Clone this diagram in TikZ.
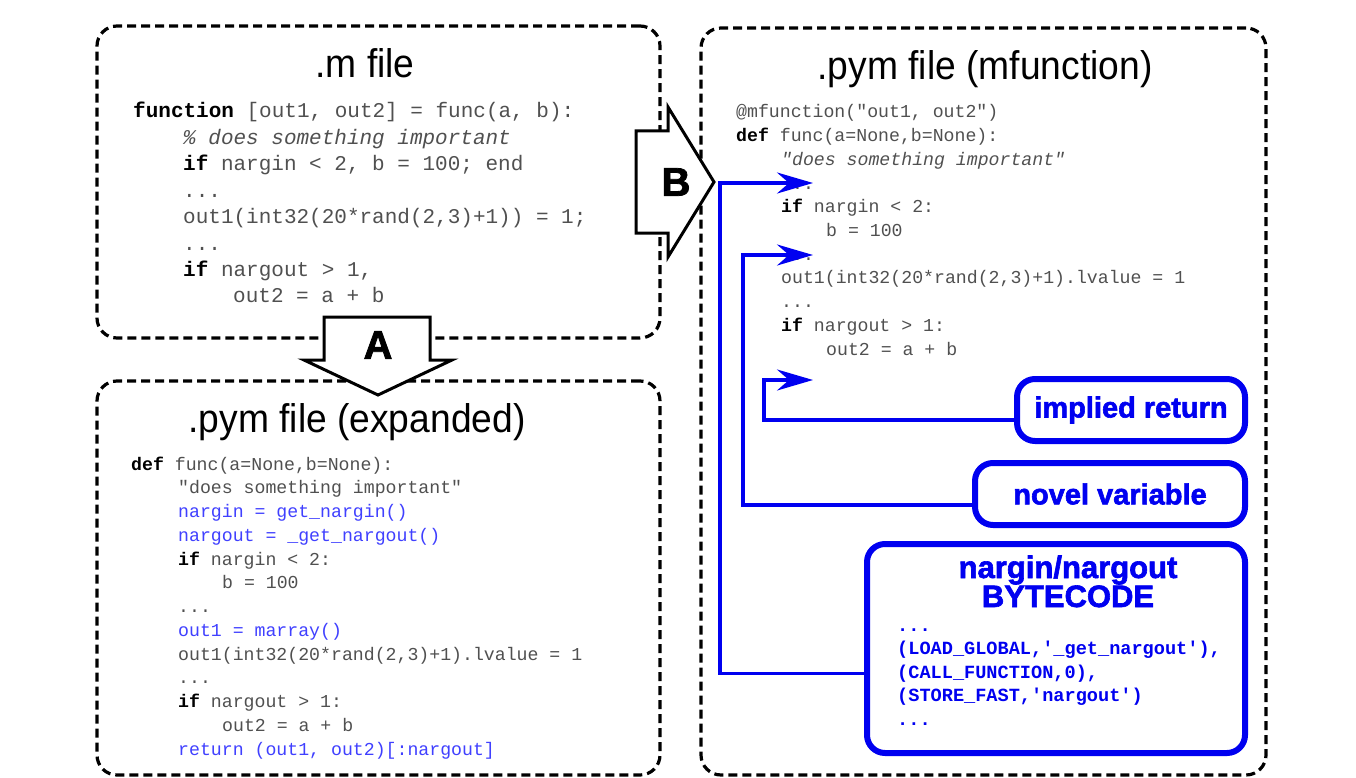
\documentclass[tikz,border=0pt]{standalone}
\usepackage{fontspec}
\setmainfont{Liberation Sans}
\setmonofont{Liberation Mono}
\newfontfamily\titlefont{Liberation Sans}[FakeStretch=0.93]
\newfontfamily\heavyfont{Liberation Sans}[BoldFeatures={FakeBold=2}]
\usetikzlibrary{arrows.meta,calc}
\definecolor{codeblue}{RGB}{64,64,255}
\definecolor{lineblue}{RGB}{0,0,240}
\definecolor{codegray}{RGB}{80,80,80}
\newcommand{\kwd}[1]{\textbf{\color{black}#1}}
\begin{document}
\begin{tikzpicture}[x=1pt,y=-1pt,
  filebox/.style={draw,line width=3.2pt,dash pattern=on 9pt off 5pt,rounded corners=20pt,inner sep=0pt,outer sep=0pt},
  filetitle/.style={anchor=base,inner sep=0pt,font=\titlefont\fontsize{40}{40}\selectfont},
  codeA/.style={anchor=base west,inner sep=0pt,text=codegray,font=\ttfamily\fontsize{21}{21}\selectfont},
  codeB/.style={anchor=base west,inner sep=0pt,text=codegray,font=\ttfamily\fontsize{18.2}{18.2}\selectfont},
  codeBlue/.style={codeB,text=codeblue},
  bytecode/.style={anchor=base west,inner sep=0pt,text=lineblue,font=\ttfamily\bfseries\fontsize{18.6}{18.6}\selectfont},
  labelbox/.style={draw=lineblue,line width=6pt,rounded corners=18pt,inner sep=0pt,outer sep=0pt,text=lineblue,font=\heavyfont\bfseries\fontsize{29}{29}\selectfont},
  bctitle/.style={anchor=base,inner sep=0pt,text=lineblue,font=\heavyfont\bfseries\fontsize{31}{31}\selectfont},
  conn/.style={draw=lineblue,line width=3.4pt,-{Stealth[length=36pt,width=21pt,inset=12pt]}},
  blockarrow/.style={draw,line width=3pt,fill=white,line join=miter},
  letter/.style={inner sep=0pt,font=\heavyfont\bfseries\fontsize{40}{40}\selectfont}
]
\useasboundingbox (0,0) rectangle (1356,778);

% dashed file boxes
\node[filebox,minimum width=563pt,minimum height=312pt] (mbox) at (378.5,182) {};
\node[filebox,minimum width=563pt,minimum height=394pt] (ebox) at (378.5,578) {};
\node[filebox,minimum width=565pt,minimum height=747pt] (fbox) at (983.5,401.5) {};

% titles
\node[filetitle] (mt) at (365,78) {.m file};
\node[filetitle] (et) at (357,432) {.pym file (expanded)};
\node[filetitle] (ft) at (985,80) {.pym file (mfunction)};

% .m file code
\node[codeA] (m1) at (133,118) {\kwd{function} [out1, out2] = func(a, b):};
\node[codeA] (m2) at (183,144.4) {\textit{\% does something important}};
\node[codeA] (m3) at (183,170.8) {\kwd{if} nargin < 2, b = 100; end};
\node[codeA] (m4) at (183,197.2) {...};
\node[codeA] (m5) at (183,223.6) {out1(int32(20*rand(2,3)+1)) = 1;};
\node[codeA] (m6) at (183,250) {...};
\node[codeA] (m7) at (183,276.4) {\kwd{if} nargout > 1,};
\node[codeA] (m8) at (233,302.8) {out2 = a + b};

% expanded code
\node[codeB] (e1) at (131,470) {\kwd{def} func(a=None,b=None):};
\node[codeB] (e2) at (178,493.75) {"does something important"};
\node[codeBlue] (e3) at (178,517.5) {nargin = get\_nargin()};
\node[codeBlue] (e4) at (178,541.25) {nargout = \_get\_nargout()};
\node[codeB] (e5) at (178,565) {\kwd{if} nargin < 2:};
\node[codeB] (e6) at (222,588.75) {b = 100};
\node[codeB] (e7) at (178,612.5) {...};
\node[codeBlue] (e8) at (178,636.25) {out1 = marray()};
\node[codeB] (e9) at (178,660) {out1(int32(20*rand(2,3)+1).lvalue = 1};
\node[codeB] (e10) at (178,683.75) {...};
\node[codeB] (e11) at (178,707.5) {\kwd{if} nargout > 1:};
\node[codeB] (e12) at (222,731.25) {out2 = a + b};
\node[codeBlue] (e13) at (178,755) {return (out1, out2)[:nargout]};

% mfunction code
\node[codeB] (f1) at (736,118) {@mfunction("out1, out2")};
\node[codeB] (f2) at (736,141.7) {\kwd{def} func(a=None,b=None):};
\node[codeB] (f3) at (781,165.4) {\textit{"does something important"}};
\node[codeB] (f4) at (781,189.1) {...};
\node[codeB] (f5) at (781,212.8) {\kwd{if} nargin < 2:};
\node[codeB] (f6) at (826,236.5) {b = 100};
\node[codeB] (f7) at (781,260.2) {...};
\node[codeB] (f8) at (781,283.9) {out1(int32(20*rand(2,3)+1).lvalue = 1};
\node[codeB] (f9) at (781,307.6) {...};
\node[codeB] (f10) at (781,331.3) {\kwd{if} nargout > 1:};
\node[codeB] (f11) at (826,355) {out2 = a + b};

% blue label boxes
\node[labelbox,minimum width=228pt,minimum height=62pt] (ir) at (1131,410) {implied return};
\node[labelbox,minimum width=270pt,minimum height=62pt] (nv) at (1110,494) {novel variable};
\node[labelbox,minimum width=378pt,minimum height=209pt] (bc) at (1056,648.5) {};
\node[bctitle] (bt1) at (1068,578) {nargin/nargout};
\node[bctitle] (bt2) at (1068,607) {BYTECODE};
\node[bytecode] (b1) at (897,631) {...};
\node[bytecode] (b2) at (897,654.5) {(LOAD\_GLOBAL,'\_get\_nargout'),};
\node[bytecode] (b3) at (897,678) {(CALL\_FUNCTION,0),};
\node[bytecode] (b4) at (897,701.5) {(STORE\_FAST,'nargout')};
\node[bytecode] (b5) at (897,725) {...};

% blue connectors
\coordinate (t1) at (813,183);
\coordinate (t2) at (813,255);
\coordinate (t3) at (813,380);
\draw[conn] ([yshift=-25pt]bc.west) -- ++(-147,0) |- (t1);
\draw[conn] ([yshift=-11pt]nv.west) -- ++(-232,0) |- (t2);
\draw[conn] ([yshift=-10pt]ir.west) -- ++(-253,0) |- (t3);

% block arrows
\draw[blockarrow] (324,317) -- (430,317) -- (430,360) -- (452,360) -- (378,395) -- (304,360) -- (324,360) -- cycle;
\node[letter] (la) at (378,345) {A};
\draw[blockarrow] (636,131) -- (668,131) -- (668,107) -- (714,182) -- (668,257) -- (668,233) -- (636,233) -- cycle;
\node[letter] (lb) at (676,182) {B};
\end{tikzpicture}
\end{document}
